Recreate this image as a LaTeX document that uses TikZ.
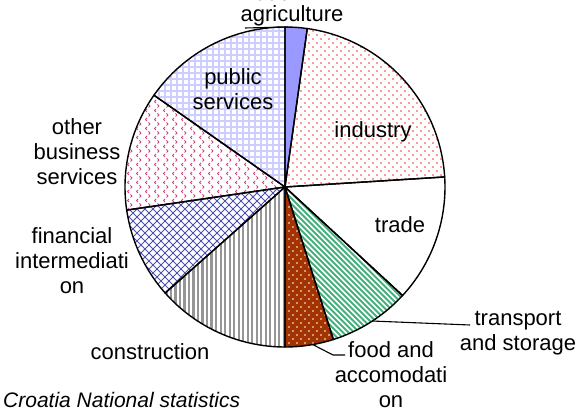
\documentclass[tikz,border=0pt]{standalone}
\usepackage{fontspec}
\setmainfont{Liberation Sans}

\definecolor{agrifill}{RGB}{153,153,255}
\definecolor{indudot}{RGB}{255,50,50}
\definecolor{transline}{RGB}{70,175,125}
\definecolor{foodfill}{RGB}{163,51,0}
\definecolor{consline}{RGB}{150,150,150}
\definecolor{finline}{RGB}{80,80,175}
\definecolor{othmark}{RGB}{205,70,125}
\definecolor{publine}{RGB}{205,205,255}

\def\pieR{160}
\newcommand{\pieslice}[2]{(0,0) -- (#1:\pieR) arc[start angle=#1, end angle=#2, radius=\pieR] -- cycle}

\begin{document}
\begin{tikzpicture}[x=1pt,y=1pt,line join=round]
    \tikzstyle{sliceedge}=[draw=black,line width=1.4pt]
    \tikzstyle{slicetext}=[align=center,inner sep=0pt,font=\fontsize{22}{25}\selectfont]
    \tikzstyle{leader}=[draw=black,line width=1.1pt]

    \useasboundingbox (-285,187) rectangle (295,-224);
    \clip (-285,187) rectangle (295,-224);

    % agriculture
    \fill[agrifill] \pieslice{82}{90};

    % industry: red dots
    \begin{scope}
        \clip \pieslice{3.6}{82};
        \foreach \j in {0,...,40}
            \foreach \i in {0,...,20}
                \fill[indudot] ({8*\i+4*mod(\j,2)},{4*\j}) circle (0.85);
    \end{scope}

    % transport and storage: green stripes
    \begin{scope}
        \clip \pieslice{-72.4}{-42.7};
        \foreach \t in {-170,-164.5,...,30}
            \draw[transline,line width=2pt] (\t,0) -- ++(200,-200);
    \end{scope}

    % food and accomodation: brown with white dots
    \fill[foodfill] \pieslice{-90}{-72.4};
    \begin{scope}
        \clip \pieslice{-90}{-72.4};
        \foreach \j in {0,...,40}
            \foreach \i in {0,...,7}
                \fill[white] ({8*\i+4*mod(\j,2)},{-4*\j}) circle (0.8);
    \end{scope}

    % construction: grey vertical stripes
    \begin{scope}
        \clip \pieslice{-138.5}{-90};
        \foreach \t in {-124,-119.5,...,0}
            \fill[consline] (\t,0) rectangle ++(2.2,-165);
    \end{scope}

    % financial intermediation: blue crosshatch
    \begin{scope}
        \clip \pieslice{188.3}{221.5};
        \foreach \t in {-360,-352,...,0}
        {
            \draw[finline,line width=0.9pt] (\t,-170) -- ++(200,200);
            \draw[finline,line width=0.9pt] (\t,30) -- ++(200,-200);
        }
    \end{scope}

    % other business services: pink chevrons
    \begin{scope}
        \clip \pieslice{145}{188.3};
        \foreach \j in {-3,...,11}
            \foreach \i in {-18,...,0}
            {
                \draw[othmark,line width=1pt] (9*\i-1.5,9*\j+1.5) -- (9*\i,9*\j) -- (9*\i-1.5,9*\j-1.5);
                \draw[othmark,line width=1pt] (9*\i+6,9*\j+6) -- (9*\i+4.5,9*\j+4.5) -- (9*\i+6,9*\j+3);
            }
    \end{scope}

    % public services: lavender grid
    \begin{scope}
        \clip \pieslice{90}{145};
        \foreach \t in {0,6,...,162}
        {
            \draw[publine,line width=1.8pt] (-\t,0) -- ++(0,165);
            \draw[publine,line width=1.8pt] (-165,\t) -- ++(165,0);
        }
    \end{scope}

    % slice outlines
    \foreach \a/\b in {82/90, 3.6/82, -42.7/3.6, -72.4/-42.7, -90/-72.4,
                       -138.5/-90, -171.7/-138.5, -215/-171.7, -270/-215}
        \draw[sliceedge] \pieslice{\a}{\b};

    % labels
    \node[slicetext] (year) at (-19,194) {2006};
    \node[slicetext] (agri) at (7,171) {agriculture};
    \node[slicetext] (pub) at (-52,98) {public\\services};
    \node[slicetext] (ind) at (88,55) {industry};
    \node[slicetext] (trade) at (115,-38) {trade};
    \node[slicetext] (trans) at (233,-146) {transport\\and storage};
    \node[slicetext] (food) at (106,-188) {food and\\accomodati\\on};
    \node[slicetext] (cons) at (-135,-165) {construction};
    \node[slicetext] (fin) at (-213,-74) {financial\\intermediati\\on};
    \node[slicetext] (oth) at (-208,35) {other\\business\\services};
    \node[slicetext,font=\fontsize{21}{25}\selectfont\itshape,anchor=west] (src) at (-282,-213) {Croatia National statistics};

    % leader lines
    \coordinate (agri-edge) at (89:\pieR);
    \coordinate (agri-end) at (-40,159);
    \draw[leader] (agri-end) -- (agri-edge);

    \coordinate (trans-edge) at (-56.9:\pieR);
    \coordinate (trans-end) at (185,-138);
    \draw[leader] (trans-edge) -- (trans-end);

    \coordinate (food-edge) at (-80:\pieR);
    \coordinate (food-bend) at (48,-168);
    \coordinate (food-end) at (60,-168);
    \draw[leader] (food-edge) -- (food-bend) -- (food-end);
\end{tikzpicture}
\end{document}
